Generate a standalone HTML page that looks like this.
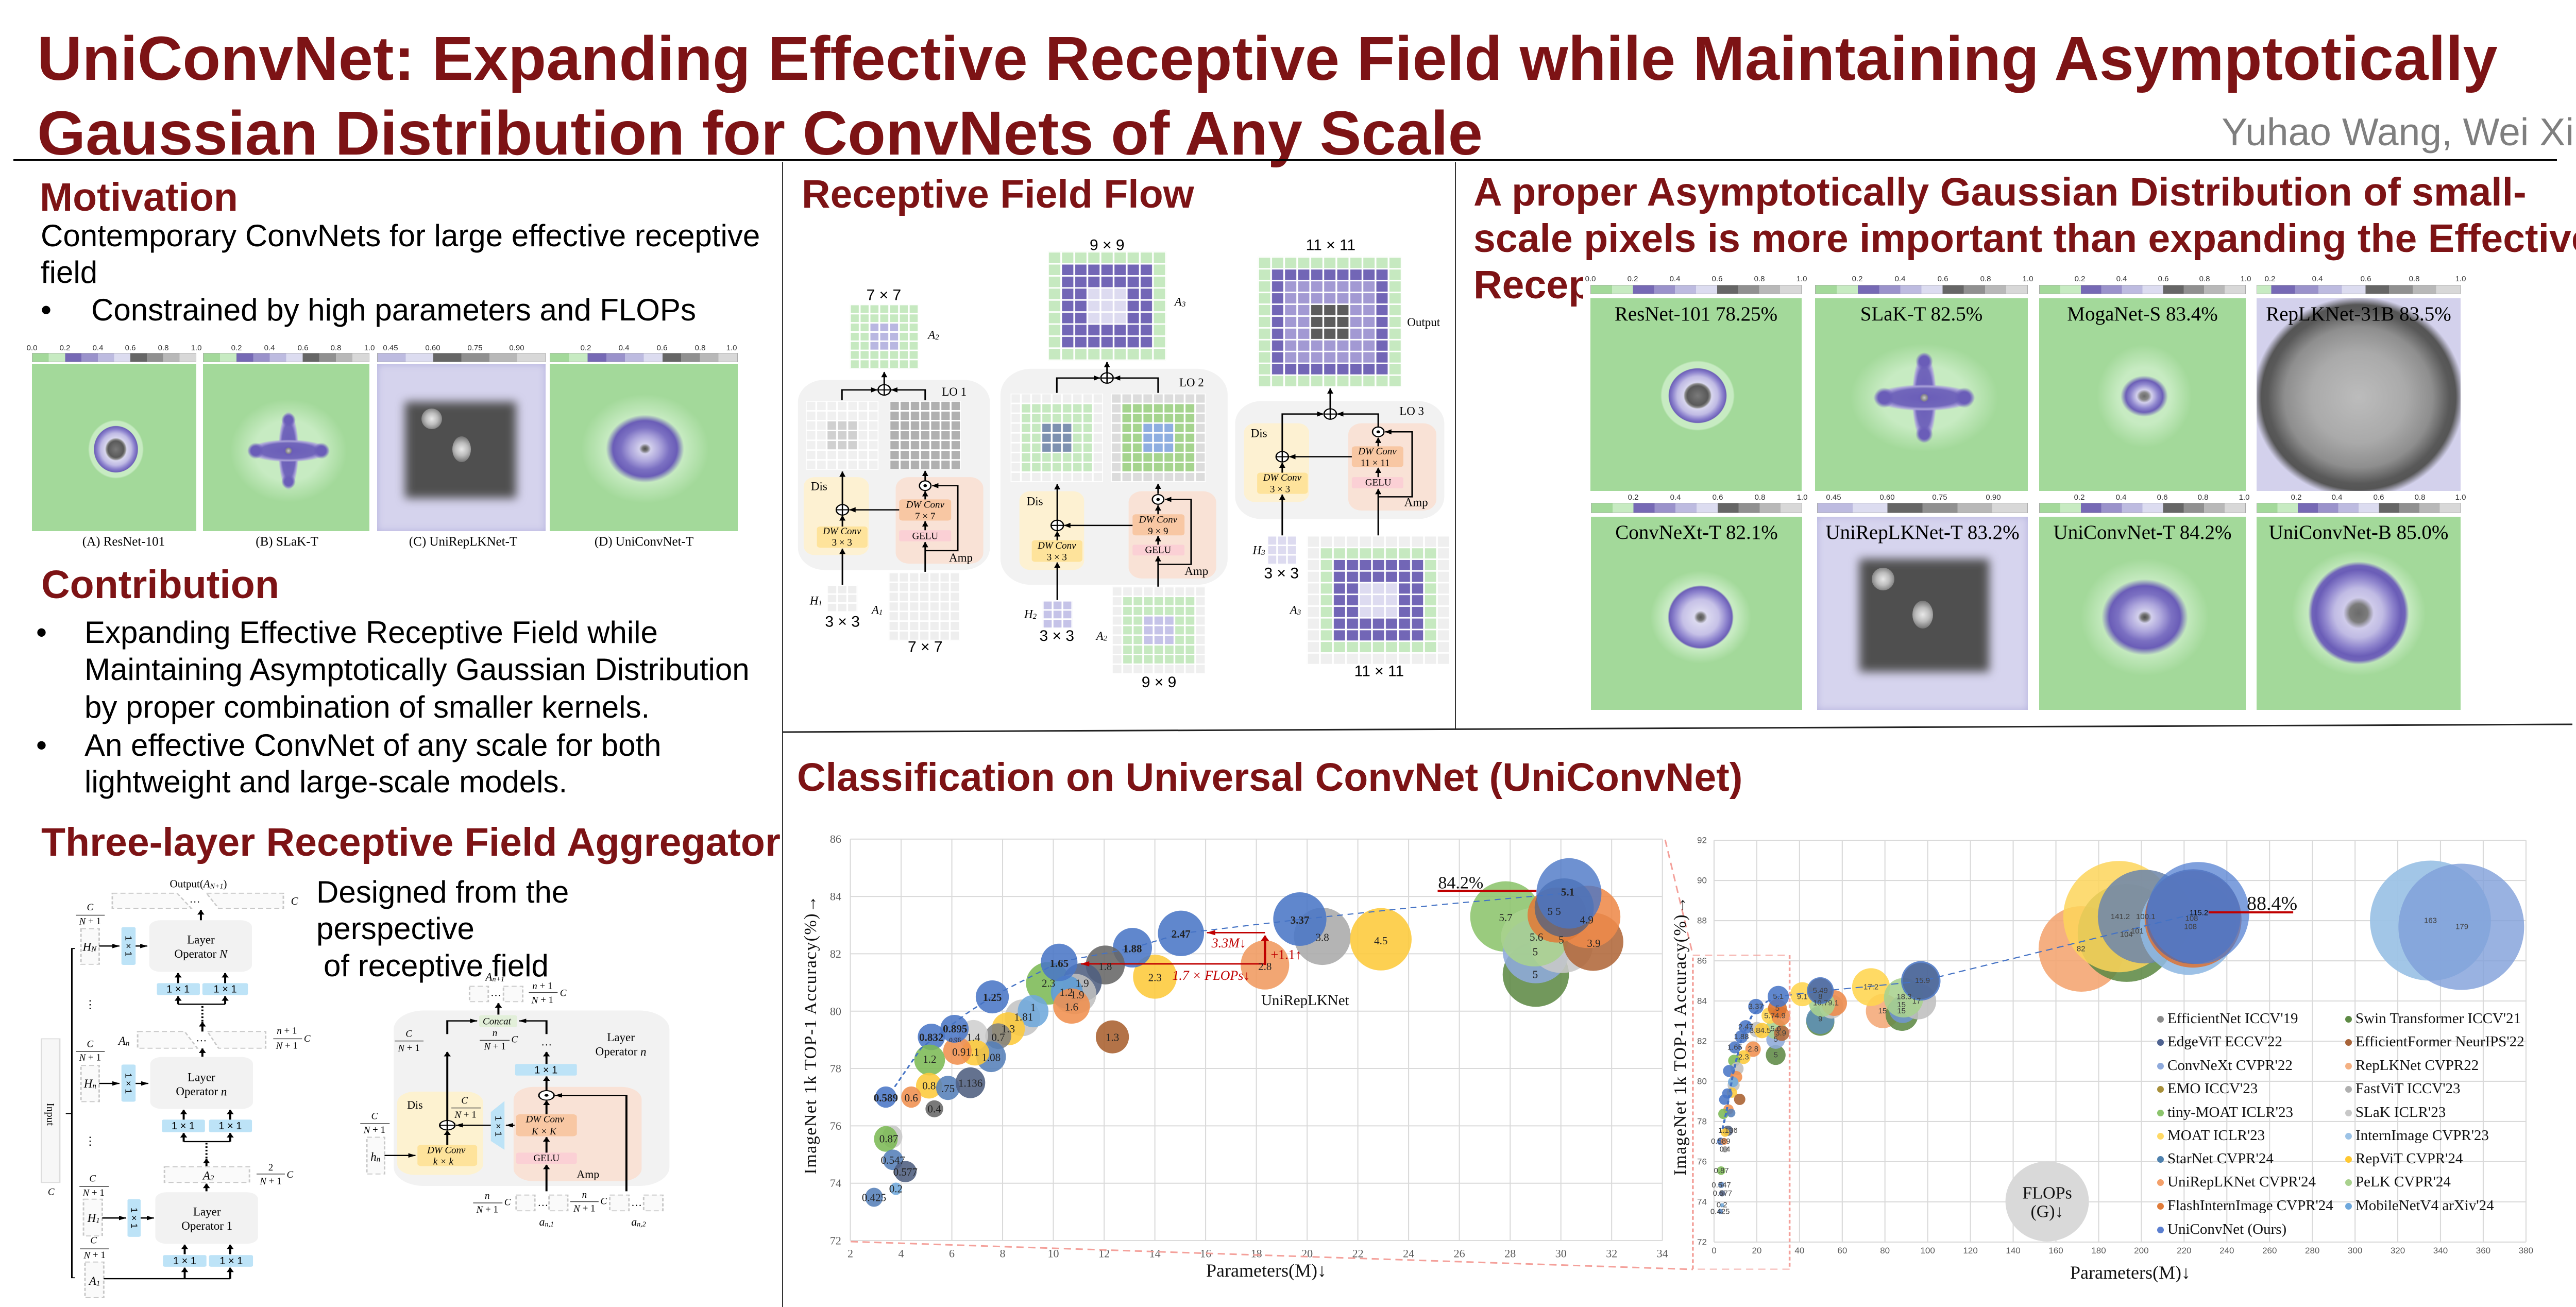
<!DOCTYPE html>
<html><head><meta charset="utf-8"><title>UniConvNet poster</title>
<style>
*{margin:0;padding:0;box-sizing:border-box}
html,body{width:5120px;height:2537px;overflow:hidden;background:#fff}
body{position:relative;font-family:"Liberation Sans",Arial,sans-serif;color:#000}
.a{position:absolute;white-space:nowrap;line-height:1}
.h{font-weight:bold;font-size:77px;color:#7d1315}
.b{font-size:60px}
svg{position:absolute;overflow:visible}
.hm{position:absolute;overflow:hidden;background-color:#a3d99a}
.hm .l{position:absolute;left:0;right:0;top:11px;text-align:center;font-family:"Liberation Serif",serif;font-size:39px;line-height:1;white-space:nowrap}
.cb{position:absolute;height:18px;border:1px solid #aaa;background:linear-gradient(to right,#a3d99a 0 10%,#c7ebc2 10% 20%,#7669b5 20% 30%,#9a92cb 30% 40%,#bdbbe0 40% 50%,#dcdcf0 50% 60%,#666 60% 70%,#909090 70% 80%,#b8b8b8 80% 90%,#d8d8d8 90% 100%)}
.cb6{background:linear-gradient(to right,#bdbbe0 0 16.7%,#dcdcf0 16.7% 33.3%,#666 33.3% 50%,#909090 50% 66.7%,#b8b8b8 66.7% 83.3%,#d8d8d8 83.3% 100%)}
.cl{position:absolute;font-size:15px;line-height:1;color:#333;transform:translateX(-50%);white-space:nowrap}
.cap{position:absolute;width:300px;text-align:center;font-family:"Liberation Serif",serif;font-size:25px;line-height:1;white-space:nowrap}
.lg{position:absolute;font-family:"Liberation Serif",serif;font-size:29px;line-height:1;white-space:nowrap;color:#111}
.dot{position:absolute;width:13px;height:13px;border-radius:50%}
.blk{position:absolute;background:#4f4f4f;filter:blur(9px)}
.spot{position:absolute;border-radius:50%;background:radial-gradient(circle,#e8e8e8 0,#bdbdbd 40%,rgba(120,120,120,0) 100%)}
</style></head><body>

<!-- Title -->
<div class="a" style="left:72px;top:41px;font-weight:bold;font-size:121px;line-height:145px;color:#7d1315">UniConvNet: Expanding Effective Receptive Field while Maintaining Asymptotically<br>Gaussian Distribution for ConvNets of Any Scale</div>
<div class="a" style="right:124px;top:219px;font-size:75px;color:#7f7f7f">Yuhao Wang, Wei Xi</div>
<div style="position:absolute;left:26px;top:309px;width:4937px;height:3px;background:#000"></div>
<div style="position:absolute;left:1518px;top:314px;width:2px;height:2223px;background:#333"></div>
<div style="position:absolute;left:2824px;top:314px;width:2px;height:1100px;background:#333"></div>

<!-- Left column -->
<div class="a h" style="left:77px;top:345px">Motivation</div>
<div class="a b" style="left:79px;top:428px">Contemporary ConvNets for large effective receptive</div>
<div class="a b" style="left:79px;top:499px">field</div>
<div class="a b" style="left:79px;top:572px">•</div>
<div class="a b" style="left:177px;top:572px">Constrained by high parameters and FLOPs</div>

<div class="cb" style="left:62px;top:685px;width:319px"></div>
<div class="cb" style="left:394px;top:685px;width:323px"></div>
<div class="cb cb6" style="left:732px;top:685px;width:327px"></div>
<div class="cb" style="left:1067px;top:685px;width:365px"></div>
<div class="cl" style="left:62px;top:668px">0.0</div><div class="cl" style="left:126px;top:668px">0.2</div><div class="cl" style="left:190px;top:668px">0.4</div><div class="cl" style="left:253px;top:668px">0.6</div><div class="cl" style="left:317px;top:668px">0.8</div><div class="cl" style="left:381px;top:668px">1.0</div>
<div class="cl" style="left:459px;top:668px">0.2</div><div class="cl" style="left:523px;top:668px">0.4</div><div class="cl" style="left:588px;top:668px">0.6</div><div class="cl" style="left:652px;top:668px">0.8</div><div class="cl" style="left:717px;top:668px">1.0</div>
<div class="cl" style="left:758px;top:668px">0.45</div><div class="cl" style="left:840px;top:668px">0.60</div><div class="cl" style="left:922px;top:668px">0.75</div><div class="cl" style="left:1003px;top:668px">0.90</div>
<div class="cl" style="left:1137px;top:668px">0.2</div><div class="cl" style="left:1211px;top:668px">0.4</div><div class="cl" style="left:1285px;top:668px">0.6</div><div class="cl" style="left:1359px;top:668px">0.8</div><div class="cl" style="left:1420px;top:668px">1.0</div>

<div class="hm" style="left:62px;top:707px;width:319px;height:324px;background:radial-gradient(ellipse 54px 57px at 163px 165px,#7a7a7a 0,#595959 28%,#8c8c8c 34%,#d8d6ee 39%,#bfbae4 55%,#8a80cc 68%,#6c5fb7 78%,#c7ebc2 80%,#c7ebc2 95%,rgba(199,235,194,0) 100%),#a3d99a"></div>
<div class="hm" style="left:394px;top:707px;width:323px;height:324px;background:radial-gradient(circle 11px at 166px 168px,#c8c8c8 0,#888 45%,#6a5db8 65%,rgba(106,93,184,0) 100%),radial-gradient(circle 16px at 102px 168px,#6a5db8 0,#6a5db8 55%,rgba(106,93,184,0) 100%),radial-gradient(circle 16px at 230px 168px,#6a5db8 0,#6a5db8 55%,rgba(106,93,184,0) 100%),radial-gradient(circle 14px at 166px 108px,#6a5db8 0,#6a5db8 55%,rgba(106,93,184,0) 100%),radial-gradient(circle 14px at 166px 228px,#6a5db8 0,#6a5db8 55%,rgba(106,93,184,0) 100%),radial-gradient(ellipse 80px 22px at 166px 168px,#6a5db8 0,#7166bb 68%,#aaa3d9 86%,rgba(170,163,217,0) 100%),radial-gradient(ellipse 20px 77px at 166px 168px,#6a5db8 0,#7166bb 68%,#aaa3d9 86%,rgba(170,163,217,0) 100%),radial-gradient(ellipse 138px 122px at 166px 168px,#c7ebc2 0,#c7ebc2 48%,rgba(199,235,194,0) 82%),#a3d99a"></div>
<div class="hm" style="left:732px;top:707px;width:327px;height:324px;background:#d5d3ed;box-shadow:inset 0 0 14px #b5b2de">
 <div class="blk" style="left:54px;top:73px;width:216px;height:187px"></div>
 <div class="spot" style="left:86px;top:86px;width:40px;height:40px"></div>
 <div class="spot" style="left:146px;top:140px;width:36px;height:50px"></div>
</div>
<div class="hm" style="left:1067px;top:707px;width:365px;height:324px;background:radial-gradient(ellipse 76px 66px at 185px 164px,#4d4d4d 0,#777 7%,#d2cfec 15%,#ada6dc 38%,#7b70c2 62%,#6a5db7 82%,rgba(106,93,183,0) 100%),radial-gradient(ellipse 124px 106px at 185px 164px,#c7ebc2 0,#c7ebc2 60%,rgba(199,235,194,0) 100%),#a3d99a"></div>
<div class="cap" style="left:90px;top:1039px">(A) ResNet-101</div>
<div class="cap" style="left:407px;top:1039px">(B) SLaK-T</div>
<div class="cap" style="left:749px;top:1039px">(C) UniRepLKNet-T</div>
<div class="cap" style="left:1100px;top:1039px">(D) UniConvNet-T</div>

<div class="a h" style="left:80px;top:1097px">Contribution</div>
<div class="a b" style="left:70px;top:1198px">•</div>
<div class="a b" style="left:164px;top:1198px">Expanding Effective Receptive Field while</div>
<div class="a b" style="left:164px;top:1270px">Maintaining Asymptotically Gaussian Distribution</div>
<div class="a b" style="left:164px;top:1343px">by proper combination of smaller kernels.</div>
<div class="a b" style="left:70px;top:1417px">•</div>
<div class="a b" style="left:164px;top:1417px">An effective ConvNet of any scale for both</div>
<div class="a b" style="left:164px;top:1488px">lightweight and large-scale models.</div>

<div class="a h" style="left:80px;top:1597px">Three-layer Receptive Field Aggregator</div>
<div class="a b" style="left:614px;top:1702px">Designed from the</div>
<div class="a b" style="left:614px;top:1773px">perspective</div>
<div class="a b" style="left:628px;top:1845px">of receptive field</div>

<!-- Aggregator diagram -->
<svg style="left:0;top:1580px;width:1540px;height:957px" viewBox="0 0 1568 1568" preserveAspectRatio="none">
<defs><marker id="ka" markerUnits="userSpaceOnUse" markerWidth="16" markerHeight="14" refX="14" refY="7" orient="auto"><path d="M0,0L15,7L0,14z" fill="#000"/></marker></defs>
<g fill="#fafafa" stroke="#c8c8c8" stroke-width="3" stroke-dasharray="10 6">
<polygon points="222,252 350,252 378,300 222,300"/><polygon points="408,252 560,252 560,300 432,300"/>
<rect x="160" y="365" width="36" height="113"/>
<polygon points="272,692 365,692 390,745 272,745"/><polygon points="410,692 525,692 525,745 432,745"/>
<rect x="160" y="800" width="36" height="115"/>
<rect x="325" y="1122" width="168" height="50"/>
<rect x="165" y="1225" width="37" height="117"/>
<rect x="168" y="1425" width="37" height="113"/>
<rect x="928" y="548" width="37" height="49"/><rect x="995" y="548" width="38" height="49"/>
<rect x="843" y="705" width="87" height="45"/><rect x="1030" y="705" width="35" height="47"/><rect x="1095" y="705" width="38" height="47"/>
<rect x="725" y="1028" width="35" height="117"/>
<rect x="1020" y="1212" width="37" height="50"/><rect x="1085" y="1212" width="37" height="50"/><rect x="1205" y="1212" width="38" height="50"/><rect x="1272" y="1212" width="38" height="50"/>
</g>
<rect x="82" y="715" width="36" height="457" fill="#f7f7f7" stroke="#ddd" stroke-width="3"/>
<g fill="#f2f2f2"><rect x="295" y="338" width="203" height="164" rx="22"/><rect x="297" y="773" width="203" height="165" rx="22"/><rect x="307" y="1203" width="203" height="164" rx="22"/><rect x="778" y="625" width="545" height="558" rx="60"/></g>
<rect x="785" y="883" width="170" height="265" rx="35" fill="#fdf2d0"/>
<rect x="1015" y="868" width="253" height="300" rx="40" fill="#f9e2d6"/>
<g fill="#bde3f7"><rect x="240" y="360" width="28" height="120" rx="4"/><rect x="310" y="538" width="85" height="38" rx="4"/><rect x="400" y="538" width="90" height="38" rx="4"/>
<rect x="240" y="797" width="28" height="118" rx="4"/><rect x="320" y="972" width="85" height="40" rx="4"/><rect x="413" y="972" width="85" height="40" rx="4"/>
<rect x="252" y="1225" width="26" height="120" rx="4"/><rect x="322" y="1403" width="86" height="37" rx="4"/><rect x="413" y="1403" width="87" height="37" rx="4"/>
<rect x="1018" y="795" width="122" height="37" rx="4"/><polygon points="970,948 997,913 997,1068 970,1040"/></g>
<rect x="947" y="640" width="75" height="38" rx="5" fill="#e2efd9"/>
<rect x="825" y="1052" width="118" height="68" rx="8" fill="#fee39b"/>
<rect x="1020" y="955" width="120" height="70" rx="8" fill="#f8c7a3"/>
<rect x="1020" y="1077" width="120" height="36" rx="5" fill="#fbd0d5"/>
<g stroke="#000" stroke-width="4" fill="none">
<path d="M148 428H142V1475H148M130 953H142" stroke-width="3"/>
<path d="M397 338V306" marker-end="url(#ka)"/>
<path d="M196 420H236" marker-end="url(#ka)"/><path d="M268 420H291" marker-end="url(#ka)"/>
<path d="M352 538V506" marker-end="url(#ka)"/><path d="M445 538V506" marker-end="url(#ka)"/>
<path d="M352 605V580" marker-end="url(#ka)"/><path d="M445 605V580" marker-end="url(#ka)"/><path d="M352 605H445"/>
<path d="M400 692V662" marker-end="url(#ka)"/><path d="M400 660V606" stroke-dasharray="5 6"/>
<path d="M400 772V746" marker-end="url(#ka)"/>
<path d="M196 857H236" marker-end="url(#ka)"/><path d="M268 857H293" marker-end="url(#ka)"/>
<path d="M363 972V941" marker-end="url(#ka)"/><path d="M455 972V941" marker-end="url(#ka)"/>
<path d="M363 1042V1015" marker-end="url(#ka)"/><path d="M455 1042V1015" marker-end="url(#ka)"/><path d="M363 1042H455"/>
<path d="M408 1120V1097" marker-end="url(#ka)"/><path d="M408 1095V1043" stroke-dasharray="5 6"/>
<path d="M408 1200V1176" marker-end="url(#ka)"/>
<path d="M202 1285H249" marker-end="url(#ka)"/><path d="M278 1285H304" marker-end="url(#ka)"/>
<path d="M365 1400V1370" marker-end="url(#ka)"/><path d="M455 1400V1370" marker-end="url(#ka)"/>
<path d="M205 1478H455"/><path d="M365 1478V1443" marker-end="url(#ka)"/><path d="M455 1478V1443" marker-end="url(#ka)"/>
<path d="M985 638V602" marker-end="url(#ka)"/>
<path d="M884 700V658H943" marker-end="url(#ka)"/><path d="M1080 700V658H1026" marker-end="url(#ka)"/>
<path d="M1080 795V757" marker-end="url(#ka)"/>
<path d="M884 975V757" marker-end="url(#ka)"/>
<path d="M884 1052V1007" marker-end="url(#ka)"/>
<path d="M760 1086H821" marker-end="url(#ka)"/>
<path d="M970 990H901" marker-end="url(#ka)"/><path d="M1017 990H1000" marker-end="url(#ka)"/>
<path d="M1080 1077V1028" marker-end="url(#ka)"/><path d="M1080 955V912" marker-end="url(#ka)"/><path d="M1080 880V835" marker-end="url(#ka)"/><path d="M1080 1200V1116" marker-end="url(#ka)"/>
<path d="M1238 1200V895H1097" marker-end="url(#ka)"/>
<circle cx="884" cy="990" r="15" fill="#fff" stroke-width="3"/><path d="M869 990H899M884 975V1005" stroke-width="3"/>
<circle cx="1080" cy="895" r="15" fill="#fff" stroke-width="3"/>
</g>
<circle cx="1080" cy="895" r="4" fill="#000"/>
<g stroke="#444" stroke-width="2.5"><path d="M150 322H207M150 755H207M157 1185H215M158 1383H215M540 715H597M507 1145H563M1045 568H1102M780 722H837M948 720H1007M892 935H950M712 985H770M935 1237H993M1127 1233H1183"/></g>
<g font-family="'Liberation Serif',serif" font-size="21" text-anchor="middle" dominant-baseline="central">
<text transform="translate(392 222) scale(1.018 1.638)">Output(<tspan font-style="italic">A</tspan><tspan font-size="14" font-style="italic" dy="5">N+1</tspan><tspan dy="-5">)</tspan></text>
<text transform="translate(385 270) scale(1.018 1.638)">…</text>
<text transform="translate(582 277) scale(1.018 1.638)" font-style="italic">C</text>
<text transform="translate(397 400) scale(1.018 1.638)" font-size="23">Layer</text>
<text transform="translate(397 445) scale(1.018 1.638)" font-size="23">Operator <tspan font-style="italic">N</tspan></text>
<text transform="translate(177 423) scale(1.018 1.638)" font-style="italic" font-size="23">H<tspan font-size="15" dy="5">N</tspan></text>
<text transform="translate(178 297) scale(1.018 1.638)" font-style="italic" font-size="19">C</text>
<text transform="translate(178 342) scale(1.018 1.638)" font-size="19"><tspan font-style="italic">N</tspan> + 1</text>
<text transform="translate(178 605) scale(1.018 1.638)" font-size="22">⋮</text>
<text transform="translate(178 1040) scale(1.018 1.638)" font-size="22">⋮</text>
<text transform="translate(245 722) scale(1.018 1.638)" font-style="italic" font-size="23">A<tspan font-size="15" dy="5">n</tspan></text>
<text transform="translate(398 712) scale(1.018 1.638)">…</text>
<text transform="translate(567 690) scale(1.018 1.638)" font-size="19"><tspan font-style="italic">n</tspan> + 1</text>
<text transform="translate(567 737) scale(1.018 1.638)" font-size="19"><tspan font-style="italic">N</tspan> + 1</text>
<text transform="translate(607 715) scale(1.018 1.638)" font-style="italic" font-size="19">C</text>
<text transform="translate(398 837) scale(1.018 1.638)" font-size="23">Layer</text>
<text transform="translate(398 882) scale(1.018 1.638)" font-size="23">Operator <tspan font-style="italic">n</tspan></text>
<text transform="translate(178 858) scale(1.018 1.638)" font-style="italic" font-size="23">H<tspan font-size="15" dy="5">n</tspan></text>
<text transform="translate(178 732) scale(1.018 1.638)" font-style="italic" font-size="19">C</text>
<text transform="translate(178 775) scale(1.018 1.638)" font-size="19"><tspan font-style="italic">N</tspan> + 1</text>
<text transform="translate(412 1150) scale(1.018 1.638)" font-style="italic" font-size="23">A<tspan font-size="15" dy="5">2</tspan></text>
<text transform="translate(535 1125) scale(1.018 1.638)" font-size="19">2</text>
<text transform="translate(535 1168) scale(1.018 1.638)" font-size="19"><tspan font-style="italic">N</tspan> + 1</text>
<text transform="translate(573 1148) scale(1.018 1.638)" font-style="italic" font-size="19">C</text>
<text transform="translate(409 1265) scale(1.018 1.638)" font-size="23">Layer</text>
<text transform="translate(409 1310) scale(1.018 1.638)" font-size="23">Operator 1</text>
<text transform="translate(185 1285) scale(1.018 1.638)" font-style="italic" font-size="23">H<tspan font-size="15" dy="5">1</tspan></text>
<text transform="translate(183 1160) scale(1.018 1.638)" font-style="italic" font-size="19">C</text>
<text transform="translate(185 1205) scale(1.018 1.638)" font-size="19"><tspan font-style="italic">N</tspan> + 1</text>
<text transform="translate(187 1485) scale(1.018 1.638)" font-style="italic" font-size="23">A<tspan font-size="15" dy="5">1</tspan></text>
<text transform="translate(185 1357) scale(1.018 1.638)" font-style="italic" font-size="19">C</text>
<text transform="translate(187 1403) scale(1.018 1.638)" font-size="19"><tspan font-style="italic">N</tspan> + 1</text>
<text transform="translate(100 955) scale(1.018 1.638) rotate(90)" font-size="21">Input</text>
<text transform="translate(101 1203) scale(1.018 1.638)" font-style="italic" font-size="19">C</text>
<text transform="translate(978 518) scale(1.018 1.638)" font-style="italic" font-size="22">A<tspan font-size="14" dy="5">n+1</tspan></text>
<text transform="translate(980 568) scale(1.018 1.638)">…</text>
<text transform="translate(1072 547) scale(1.018 1.638)" font-size="19"><tspan font-style="italic">n</tspan> + 1</text>
<text transform="translate(1072 592) scale(1.018 1.638)" font-size="19"><tspan font-style="italic">N</tspan> + 1</text>
<text transform="translate(1113 570) scale(1.018 1.638)" font-style="italic" font-size="19">C</text>
<text transform="translate(982 660) scale(1.018 1.638)" font-style="italic" font-size="19">Concat</text>
<text transform="translate(808 700) scale(1.018 1.638)" font-style="italic" font-size="19">C</text>
<text transform="translate(808 745) scale(1.018 1.638)" font-size="19"><tspan font-style="italic">N</tspan> + 1</text>
<text transform="translate(978 697) scale(1.018 1.638)" font-style="italic" font-size="19">n</text>
<text transform="translate(978 740) scale(1.018 1.638)" font-size="19"><tspan font-style="italic">N</tspan> + 1</text>
<text transform="translate(1017 718) scale(1.018 1.638)" font-style="italic" font-size="19">C</text>
<text transform="translate(1080 725) scale(1.018 1.638)">…</text>
<text transform="translate(1227 710) scale(1.018 1.638)" font-size="23">Layer</text>
<text transform="translate(1227 755) scale(1.018 1.638)" font-size="23">Operator <tspan font-style="italic">n</tspan></text>
<text transform="translate(820 925) scale(1.018 1.638)" font-size="22">Dis</text>
<text transform="translate(918 912) scale(1.018 1.638)" font-style="italic" font-size="19">C</text>
<text transform="translate(920 957) scale(1.018 1.638)" font-size="19"><tspan font-style="italic">N</tspan> + 1</text>
<text transform="translate(882 1070) scale(1.018 1.638)" font-style="italic" font-size="19">DW Conv</text>
<text transform="translate(876 1106) scale(1.018 1.638)" font-style="italic" font-size="19">k × k</text>
<text transform="translate(742 1090) scale(1.018 1.638)" font-style="italic" font-size="23">h<tspan font-size="15" dy="5">n</tspan></text>
<text transform="translate(740 962) scale(1.018 1.638)" font-style="italic" font-size="19">C</text>
<text transform="translate(740 1005) scale(1.018 1.638)" font-size="19"><tspan font-style="italic">N</tspan> + 1</text>
<text transform="translate(1162 1145) scale(1.018 1.638)" font-size="22">Amp</text>
<text transform="translate(1077 972) scale(1.018 1.638)" font-style="italic" font-size="19">DW Conv</text>
<text transform="translate(1075 1010) scale(1.018 1.638)" font-style="italic" font-size="19">K × K</text>
<text transform="translate(1080 1095) scale(1.018 1.638)" font-size="19">GELU</text>
<text transform="translate(963 1215) scale(1.018 1.638)" font-style="italic" font-size="19">n</text>
<text transform="translate(963 1258) scale(1.018 1.638)" font-size="19"><tspan font-style="italic">N</tspan> + 1</text>
<text transform="translate(1003 1235) scale(1.018 1.638)" font-style="italic" font-size="19">C</text>
<text transform="translate(1073 1235) scale(1.018 1.638)">…</text>
<text transform="translate(1155 1212) scale(1.018 1.638)" font-style="italic" font-size="19">n</text>
<text transform="translate(1155 1255) scale(1.018 1.638)" font-size="19"><tspan font-style="italic">N</tspan> + 1</text>
<text transform="translate(1193 1232) scale(1.018 1.638)" font-style="italic" font-size="19">C</text>
<text transform="translate(1258 1235) scale(1.018 1.638)">…</text>
<text transform="translate(1080 1297) scale(1.018 1.638)" font-style="italic" font-size="22">a<tspan font-size="14" dy="5">n,1</tspan></text>
<text transform="translate(1262 1297) scale(1.018 1.638)" font-style="italic" font-size="22">a<tspan font-size="14" dy="5">n,2</tspan></text>
</g>
<g font-family="'Liberation Sans',sans-serif" font-size="18" text-anchor="middle" dominant-baseline="central">
<text transform="translate(254 420) scale(1.018 1.638) rotate(90)">1 × 1</text>
<text transform="translate(254 857) scale(1.018 1.638) rotate(90)">1 × 1</text>
<text transform="translate(265 1285) scale(1.018 1.638) rotate(90)">1 × 1</text>
<text transform="translate(985 993) scale(1.018 1.638) rotate(90)">1 × 1</text>
<text transform="translate(352 558) scale(1.018 1.638)" font-size="20">1 × 1</text>
<text transform="translate(445 558) scale(1.018 1.638)" font-size="20">1 × 1</text>
<text transform="translate(362 993) scale(1.018 1.638)" font-size="20">1 × 1</text>
<text transform="translate(455 993) scale(1.018 1.638)" font-size="20">1 × 1</text>
<text transform="translate(365 1422) scale(1.018 1.638)" font-size="20">1 × 1</text>
<text transform="translate(457 1422) scale(1.018 1.638)" font-size="20">1 × 1</text>
<text transform="translate(1079 815) scale(1.018 1.638)" font-size="20">1 × 1</text>
</g>
</svg>

<!-- Receptive Field Flow -->
<div class="a h" style="left:1556px;top:339px">Receptive Field Flow</div>
<svg style="left:1530px;top:310px;width:1340px;height:1130px" viewBox="0 0 1568 1568" preserveAspectRatio="none">
<defs>
<marker id="kb" markerUnits="userSpaceOnUse" markerWidth="16" markerHeight="14" refX="14" refY="7" orient="auto"><path d="M0,0L15,7L0,14z" fill="#000"/></marker>
<pattern id="p1" patternUnits="userSpaceOnUse" x="140" y="390" width="22.29" height="24.71"><rect width="22.29" height="24.71" fill="none" stroke="#fff" stroke-width="4"/></pattern>
<pattern id="p2" patternUnits="userSpaceOnUse" x="40" y="650" width="23.57" height="26.43"><rect width="23.57" height="26.43" fill="none" stroke="#fff" stroke-width="4"/></pattern>
<pattern id="p3" patternUnits="userSpaceOnUse" x="230" y="650" width="23.14" height="26.43"><rect width="23.14" height="26.43" fill="none" stroke="#fff" stroke-width="4"/></pattern>
<pattern id="p4" patternUnits="userSpaceOnUse" x="88" y="1146" width="23" height="24"><rect width="23" height="24" fill="none" stroke="#fff" stroke-width="4"/></pattern>
<pattern id="p5" patternUnits="userSpaceOnUse" x="228" y="1112" width="23.14" height="26.14"><rect width="23.14" height="26.14" fill="none" stroke="#fff" stroke-width="4"/></pattern>
<pattern id="p6" patternUnits="userSpaceOnUse" x="590" y="248" width="29.78" height="32.44"><rect width="29.78" height="32.44" fill="none" stroke="#fff" stroke-width="4"/></pattern>
<pattern id="p7" patternUnits="userSpaceOnUse" x="505" y="630" width="23.33" height="26.44"><rect width="23.33" height="26.44" fill="none" stroke="#fff" stroke-width="4"/></pattern>
<pattern id="p8" patternUnits="userSpaceOnUse" x="733" y="630" width="23.89" height="26.44"><rect width="23.89" height="26.44" fill="none" stroke="#fff" stroke-width="4"/></pattern>
<pattern id="p9" patternUnits="userSpaceOnUse" x="578" y="1188" width="22.33" height="24.67"><rect width="22.33" height="24.67" fill="none" stroke="#fff" stroke-width="4"/></pattern>
<pattern id="p10" patternUnits="userSpaceOnUse" x="735" y="1150" width="23.67" height="26.11"><rect width="23.67" height="26.11" fill="none" stroke="#fff" stroke-width="4"/></pattern>
<pattern id="p11" patternUnits="userSpaceOnUse" x="1067" y="262" width="29.64" height="31.82"><rect width="29.64" height="31.82" fill="none" stroke="#fff" stroke-width="4"/></pattern>
<pattern id="p12" patternUnits="userSpaceOnUse" x="1088" y="1013" width="22.33" height="25.67"><rect width="22.33" height="25.67" fill="none" stroke="#fff" stroke-width="4"/></pattern>
<pattern id="p13" patternUnits="userSpaceOnUse" x="1178" y="1013" width="29.55" height="31.55"><rect width="29.55" height="31.55" fill="none" stroke="#fff" stroke-width="4"/></pattern>
</defs>
<g fill="#f2f2f2"><rect x="22" y="593" width="436" height="512" rx="60"/><rect x="482" y="563" width="516" height="582" rx="70"/><rect x="1015" y="650" width="475" height="318" rx="60"/></g>
<g fill="#fdf1d2"><rect x="35" y="855" width="148" height="210" rx="25"/><rect x="525" y="893" width="147" height="212" rx="25"/><rect x="1035" y="710" width="148" height="212" rx="25"/></g>
<g fill="#f9e2d6"><rect x="244" y="855" width="199" height="233" rx="30"/><rect x="773" y="893" width="199" height="235" rx="30"/><rect x="1272" y="710" width="200" height="235" rx="30"/></g>
<g fill="#fee39b"><rect x="65" y="988" width="115" height="57" rx="7"/><rect x="553" y="1025" width="115" height="58" rx="7"/><rect x="1065" y="843" width="115" height="57" rx="7"/></g>
<g fill="#f8c7a3"><rect x="252" y="915" width="118" height="57" rx="7"/><rect x="782" y="955" width="118" height="57" rx="7"/><rect x="1280" y="772" width="117" height="56" rx="7"/></g>
<g fill="#fbd0d5"><rect x="252" y="998" width="118" height="30" rx="4"/><rect x="782" y="1037" width="118" height="29" rx="4"/><rect x="1280" y="855" width="117" height="30" rx="4"/></g>
<rect x="140" y="390" width="156" height="173" fill="#c6e9c0"/><rect x="184.6" y="439.4" width="66.9" height="74.1" fill="#b9b7e1"/><rect x="140" y="390" width="156" height="173" fill="url(#p1)"/>
<rect x="40" y="650" width="165" height="185" fill="#f0f0f0"/><rect x="87.1" y="702.9" width="70.7" height="79.3" fill="#d0d0d0"/><rect x="40" y="650" width="165" height="185" fill="url(#p2)"/>
<rect x="230" y="650" width="162" height="185" fill="#b0b0b0"/><rect x="230" y="650" width="162" height="185" fill="url(#p3)"/>
<rect x="88" y="1146" width="69" height="72" fill="#eeeeee"/><rect x="88" y="1146" width="69" height="72" fill="url(#p4)"/>
<rect x="228" y="1112" width="162" height="183" fill="#eeeeee"/><rect x="228" y="1112" width="162" height="183" fill="url(#p5)"/>
<rect x="590" y="248" width="268" height="292" fill="#c6e9c0"/><rect x="619.8" y="280.4" width="208.4" height="227.1" fill="#7266b6"/><rect x="679.3" y="345.3" width="89.3" height="97.3" fill="#dddbf0"/><rect x="590" y="248" width="268" height="292" fill="url(#p6)"/>
<rect x="505" y="630" width="210" height="238" fill="#efefef"/><rect x="528.3" y="656.4" width="163.3" height="185.1" fill="#c6e9c0"/><rect x="575" y="709.3" width="70" height="79.3" fill="#7d91b0"/><rect x="505" y="630" width="210" height="238" fill="url(#p7)"/>
<rect x="733" y="630" width="215" height="238" fill="#dcdcdc"/><rect x="756.9" y="656.4" width="167.2" height="185.1" fill="#a5d48e"/><rect x="804.7" y="709.3" width="71.7" height="79.3" fill="#8eaee0"/><rect x="733" y="630" width="215" height="238" fill="url(#p8)"/>
<rect x="578" y="1188" width="67" height="74" fill="#c5c3e8"/><rect x="578" y="1188" width="67" height="74" fill="url(#p9)"/>
<rect x="735" y="1150" width="213" height="235" fill="#efefef"/><rect x="758.7" y="1176.1" width="165.7" height="182.8" fill="#c6e9c0"/><rect x="806" y="1228.3" width="71" height="78.3" fill="#c5c3e8"/><rect x="735" y="1150" width="213" height="235" fill="url(#p10)"/>
<rect x="1067" y="262" width="326" height="350" fill="#c6e9c0"/><rect x="1096.6" y="293.8" width="266.8" height="286.4" fill="#7266b6"/><rect x="1126.3" y="325.6" width="207.5" height="222.7" fill="#a299d3"/><rect x="1185.6" y="389.3" width="88.9" height="95.5" fill="#5c5c5c"/><rect x="1067" y="262" width="326" height="350" fill="url(#p11)"/>
<rect x="1088" y="1013" width="67" height="77" fill="#dddbf0"/><rect x="1088" y="1013" width="67" height="77" fill="url(#p12)"/>
<rect x="1178" y="1013" width="325" height="347" fill="#efefef"/><rect x="1207.5" y="1044.5" width="266" height="284" fill="#c6e9c0"/><rect x="1237.1" y="1076.1" width="206.8" height="220.8" fill="#7266b6"/><rect x="1296.2" y="1139.2" width="88.6" height="94.6" fill="#dddbf0"/><rect x="1178" y="1013" width="325" height="347" fill="url(#p13)"/>
<g stroke="#000" stroke-width="3.5" fill="none">
<path d="M218 606V572" marker-end="url(#kb)"/><path d="M122 648V620H202" marker-end="url(#kb)"/><path d="M311 648V620H234" marker-end="url(#kb)"/>
<path d="M123 929V840" marker-end="url(#kb)"/><path d="M123 1145V1048" marker-end="url(#kb)"/><path d="M123 988V958" marker-end="url(#kb)"/>
<path d="M252 943H139" marker-end="url(#kb)"/><path d="M311 915V893" marker-end="url(#kb)"/><path d="M311 864V838" marker-end="url(#kb)"/>
<path d="M311 998V974" marker-end="url(#kb)"/><path d="M311 1110V1030" marker-end="url(#kb)"/><path d="M311 1053H385V878H327" marker-end="url(#kb)"/>
<path d="M724 574V545" marker-end="url(#kb)"/><path d="M610 628V588H708" marker-end="url(#kb)"/><path d="M840 628V588H740" marker-end="url(#kb)"/>
<path d="M611 970V874" marker-end="url(#kb)"/><path d="M611 1186V1085" marker-end="url(#kb)"/><path d="M611 1025V1001" marker-end="url(#kb)"/>
<path d="M782 985H627" marker-end="url(#kb)"/><path d="M840 955V931" marker-end="url(#kb)"/><path d="M840 900V873" marker-end="url(#kb)"/>
<path d="M840 1037V1014" marker-end="url(#kb)"/><path d="M840 1150V1068" marker-end="url(#kb)"/><path d="M840 1090H915V915H856" marker-end="url(#kb)"/>
<path d="M1231 670V616" marker-end="url(#kb)"/><path d="M1122 786V685H1215" marker-end="url(#kb)"/><path d="M1340 720V685H1247" marker-end="url(#kb)"/>
<path d="M1122 843V816" marker-end="url(#kb)"/><path d="M1122 1012V902" marker-end="url(#kb)"/><path d="M1280 800H1138" marker-end="url(#kb)"/>
<path d="M1340 772V749" marker-end="url(#kb)"/><path d="M1340 855V830" marker-end="url(#kb)"/><path d="M1340 1012V887" marker-end="url(#kb)"/><path d="M1340 908H1417V733H1356" marker-end="url(#kb)"/>
</g>
<g stroke="#000" stroke-width="3" fill="#fff">
<circle cx="218" cy="620" r="14"/><circle cx="123" cy="943" r="14"/><circle cx="311" cy="878" r="13"/>
<circle cx="724" cy="588" r="14"/><circle cx="611" cy="985" r="14"/><circle cx="840" cy="915" r="13"/>
<circle cx="1231" cy="685" r="14"/><circle cx="1122" cy="800" r="14"/><circle cx="1340" cy="733" r="13"/>
<path d="M204 620H232M218 606V634M109 943H137M123 929V957M710 588H738M724 574V602M597 985H625M611 971V999M1217 685H1245M1231 671V699M1108 800H1136M1122 786V814" fill="none"/>
</g>
<g fill="#000"><circle cx="311" cy="878" r="4"/><circle cx="840" cy="915" r="4"/><circle cx="1340" cy="733" r="4"/></g>
<g font-family="'Liberation Sans',sans-serif" font-size="30" text-anchor="middle" dominant-baseline="central">
<text transform="translate(217 365) scale(1.17 1.388)">7 × 7</text>
<text transform="translate(123 1245) scale(1.17 1.388)">3 × 3</text>
<text transform="translate(311 1313) scale(1.17 1.388)">7 × 7</text>
<text transform="translate(724 230) scale(1.17 1.388)">9 × 9</text>
<text transform="translate(610 1283) scale(1.17 1.388)">3 × 3</text>
<text transform="translate(842 1408) scale(1.17 1.388)">9 × 9</text>
<text transform="translate(1232 230) scale(1.17 1.388)">11 × 11</text>
<text transform="translate(1120 1114) scale(1.17 1.388)">3 × 3</text>
<text transform="translate(1342 1378) scale(1.17 1.388)">11 × 11</text>
</g>
<g font-family="'Liberation Serif',serif" font-size="23" text-anchor="middle" dominant-baseline="central">
<text transform="translate(330 472) scale(1.17 1.388)" font-style="italic">A<tspan font-size="15" dy="5">2</tspan></text>
<text transform="translate(377 625) scale(1.17 1.388)">LO 1</text>
<text transform="translate(70 880) scale(1.17 1.388)">Dis</text>
<text transform="translate(392 1072) scale(1.17 1.388)">Amp</text>
<text transform="translate(63 1188) scale(1.17 1.388)" font-style="italic">H<tspan font-size="15" dy="5">1</tspan></text>
<text transform="translate(202 1213) scale(1.17 1.388)" font-style="italic">A<tspan font-size="15" dy="5">1</tspan></text>
<text transform="translate(890 383) scale(1.17 1.388)" font-style="italic">A<tspan font-size="15" dy="5">3</tspan></text>
<text transform="translate(916 600) scale(1.17 1.388)">LO 2</text>
<text transform="translate(560 920) scale(1.17 1.388)">Dis</text>
<text transform="translate(927 1108) scale(1.17 1.388)">Amp</text>
<text transform="translate(550 1224) scale(1.17 1.388)" font-style="italic">H<tspan font-size="15" dy="5">2</tspan></text>
<text transform="translate(712 1283) scale(1.17 1.388)" font-style="italic">A<tspan font-size="15" dy="5">2</tspan></text>
<text transform="translate(1443 438) scale(1.17 1.388)">Output</text>
<text transform="translate(1416 677) scale(1.17 1.388)">LO 3</text>
<text transform="translate(1069 737) scale(1.17 1.388)">Dis</text>
<text transform="translate(1426 923) scale(1.17 1.388)">Amp</text>
<text transform="translate(1069 1052) scale(1.17 1.388)" font-style="italic">H<tspan font-size="15" dy="5">3</tspan></text>
<text transform="translate(1152 1213) scale(1.17 1.388)" font-style="italic">A<tspan font-size="15" dy="5">3</tspan></text>
<g font-size="19">
<text transform="translate(122 1001) scale(1.17 1.388)" font-style="italic">DW Conv</text><text transform="translate(122 1032) scale(1.17 1.388)">3 × 3</text>
<text transform="translate(311 930) scale(1.17 1.388)" font-style="italic">DW Conv</text><text transform="translate(311 961) scale(1.17 1.388)">7 × 7</text>
<text transform="translate(311 1014) scale(1.17 1.388)">GELU</text>
<text transform="translate(610 1040) scale(1.17 1.388)" font-style="italic">DW Conv</text><text transform="translate(610 1071) scale(1.17 1.388)">3 × 3</text>
<text transform="translate(840 970) scale(1.17 1.388)" font-style="italic">DW Conv</text><text transform="translate(840 1001) scale(1.17 1.388)">9 × 9</text>
<text transform="translate(840 1052) scale(1.17 1.388)">GELU</text>
<text transform="translate(1122 857) scale(1.17 1.388)" font-style="italic">DW Conv</text><text transform="translate(1117 888) scale(1.17 1.388)">3 × 3</text>
<text transform="translate(1338 786) scale(1.17 1.388)" font-style="italic">DW Conv</text><text transform="translate(1333 817) scale(1.17 1.388)">11 × 11</text>
<text transform="translate(1340 870) scale(1.17 1.388)">GELU</text>
</g>
</g>
</svg>

<!-- Right top -->
<div class="a" style="left:2860px;top:328px;font-weight:bold;font-size:77px;line-height:90px;color:#7d1315">A proper Asymptotically Gaussian Distribution of small-<br>scale pixels is more important than expanding the Effective<br>Receptive Field</div>
<div style="position:absolute;left:3073px;top:520px;width:1720px;height:870px;background:#fff"></div>

<div class="cb" style="left:3087px;top:553px;width:410px"></div>
<div class="cb" style="left:3523px;top:553px;width:413px"></div>
<div class="cb" style="left:3958px;top:553px;width:401px"></div>
<div class="cb" style="left:4380px;top:553px;width:396px;background:linear-gradient(to right,#c7ebc2 0 7%,#7669b5 7% 18.6%,#9a92cb 18.6% 30.2%,#bdbbe0 30.2% 41.8%,#dcdcf0 41.8% 53.4%,#666 53.4% 65%,#909090 65% 76.6%,#b8b8b8 76.6% 88.2%,#d8d8d8 88.2% 100%)"></div>
<div class="cl" style="left:3087px;top:534px">0.0</div><div class="cl" style="left:3169px;top:534px">0.2</div><div class="cl" style="left:3251px;top:534px">0.4</div><div class="cl" style="left:3333px;top:534px">0.6</div><div class="cl" style="left:3415px;top:534px">0.8</div><div class="cl" style="left:3497px;top:534px">1.0</div>
<div class="cl" style="left:3605px;top:534px">0.2</div><div class="cl" style="left:3688px;top:534px">0.4</div><div class="cl" style="left:3771px;top:534px">0.6</div><div class="cl" style="left:3854px;top:534px">0.8</div><div class="cl" style="left:3936px;top:534px">1.0</div>
<div class="cl" style="left:4037px;top:534px">0.2</div><div class="cl" style="left:4118px;top:534px">0.4</div><div class="cl" style="left:4199px;top:534px">0.6</div><div class="cl" style="left:4279px;top:534px">0.8</div><div class="cl" style="left:4359px;top:534px">1.0</div>
<div class="cl" style="left:4406px;top:534px">0.2</div><div class="cl" style="left:4498px;top:534px">0.4</div><div class="cl" style="left:4592px;top:534px">0.6</div><div class="cl" style="left:4686px;top:534px">0.8</div><div class="cl" style="left:4776px;top:534px">1.0</div>

<div class="hm" style="left:3087px;top:579px;width:410px;height:374px;background:radial-gradient(ellipse 72px 68px at 208px 189px,#7a7a7a 0,#595959 28%,#8c8c8c 34%,#d8d6ee 38%,#c0bbe4 55%,#8a80cc 68%,#6c5fb7 77%,#c7ebc2 79%,#c7ebc2 96%,rgba(199,235,194,0) 100%),#a3d99a"><div class="l">ResNet-101 78.25%</div></div>
<div class="hm" style="left:3523px;top:579px;width:413px;height:374px;background:radial-gradient(circle 13px at 212px 193px,#c8c8c8 0,#888 45%,#6a5db8 65%,rgba(106,93,184,0) 100%),radial-gradient(circle 20px at 134px 193px,#6a5db8 0,#6a5db8 55%,rgba(106,93,184,0) 100%),radial-gradient(circle 20px at 290px 193px,#6a5db8 0,#6a5db8 55%,rgba(106,93,184,0) 100%),radial-gradient(circle 17px at 212px 122px,#6a5db8 0,#6a5db8 55%,rgba(106,93,184,0) 100%),radial-gradient(circle 17px at 212px 264px,#6a5db8 0,#6a5db8 55%,rgba(106,93,184,0) 100%),radial-gradient(ellipse 100px 26px at 212px 193px,#6a5db8 0,#7166bb 68%,#aaa3d9 86%,rgba(170,163,217,0) 100%),radial-gradient(ellipse 24px 88px at 212px 193px,#6a5db8 0,#7166bb 68%,#aaa3d9 86%,rgba(170,163,217,0) 100%),radial-gradient(ellipse 175px 128px at 212px 193px,#c7ebc2 0,#c7ebc2 48%,rgba(199,235,194,0) 82%),#a3d99a"><div class="l">SLaK-T 82.5%</div></div>
<div class="hm" style="left:3958px;top:579px;width:401px;height:374px;background:radial-gradient(ellipse 46px 40px at 204px 190px,#6a6a6a 0,#888 18%,#d2cfec 32%,#9088cf 58%,#6c5fb7 78%,rgba(108,95,183,0) 100%),radial-gradient(ellipse 92px 100px at 204px 190px,#c7ebc2 0,#c7ebc2 55%,rgba(199,235,194,0) 100%),#a3d99a"><div class="l">MogaNet-S 83.4%</div></div>
<div class="hm" style="left:4380px;top:579px;width:396px;height:374px;background:radial-gradient(ellipse 205px 195px at 198px 192px,#bcbcbc 0,#aaaaaa 45%,#8e8e8e 70%,#595959 86%,#555 92%,rgba(90,90,90,0) 100%),#d3d1ec"><div class="l">RepLKNet-31B 83.5%</div></div>

<div class="cb" style="left:3088px;top:976px;width:410px;height:20px"></div>
<div class="cb cb6" style="left:3527px;top:976px;width:409px;height:20px"></div>
<div class="cb" style="left:3958px;top:976px;width:401px;height:20px"></div>
<div class="cb" style="left:4380px;top:976px;width:396px;height:20px"></div>
<div class="cl" style="left:3170px;top:958px">0.2</div><div class="cl" style="left:3252px;top:958px">0.4</div><div class="cl" style="left:3334px;top:958px">0.6</div><div class="cl" style="left:3416px;top:958px">0.8</div><div class="cl" style="left:3498px;top:958px">1.0</div>
<div class="cl" style="left:3559px;top:958px">0.45</div><div class="cl" style="left:3663px;top:958px">0.60</div><div class="cl" style="left:3765px;top:958px">0.75</div><div class="cl" style="left:3869px;top:958px">0.90</div>
<div class="cl" style="left:4036px;top:958px">0.2</div><div class="cl" style="left:4117px;top:958px">0.4</div><div class="cl" style="left:4197px;top:958px">0.6</div><div class="cl" style="left:4276px;top:958px">0.8</div><div class="cl" style="left:4356px;top:958px">1.0</div>
<div class="cl" style="left:4457px;top:958px">0.2</div><div class="cl" style="left:4536px;top:958px">0.4</div><div class="cl" style="left:4617px;top:958px">0.6</div><div class="cl" style="left:4697px;top:958px">0.8</div><div class="cl" style="left:4776px;top:958px">1.0</div>

<div class="hm" style="left:3088px;top:1003px;width:410px;height:375px;background:radial-gradient(ellipse 64px 62px at 213px 195px,#555 0,#777 10%,#dcdaf0 20%,#c6c1e7 55%,#8c82cd 80%,#6c5fb7 95%,rgba(108,95,183,0) 100%),radial-gradient(ellipse 98px 90px at 213px 195px,#c7ebc2 0,#c7ebc2 70%,rgba(199,235,194,0) 100%),#a3d99a"><div class="l">ConvNeXt-T 82.1%</div></div>
<div class="hm" style="left:3527px;top:1003px;width:409px;height:375px;background:#d6d4ee;box-shadow:inset 0 0 14px #b5b2de">
 <div class="blk" style="left:82px;top:82px;width:252px;height:219px"></div>
 <div class="spot" style="left:106px;top:99px;width:44px;height:44px"></div>
 <div class="spot" style="left:185px;top:163px;width:40px;height:54px"></div>
 <div class="l">UniRepLKNet-T 83.2%</div></div>
<div class="hm" style="left:3958px;top:1003px;width:401px;height:375px;background:radial-gradient(ellipse 84px 74px at 205px 195px,#4d4d4d 0,#777 8%,#d2cfec 16%,#ada6dc 38%,#7b70c2 62%,#6a5db7 82%,rgba(106,93,183,0) 100%),radial-gradient(ellipse 124px 114px at 205px 195px,#c7ebc2 0,#c7ebc2 62%,rgba(199,235,194,0) 100%),#a3d99a"><div class="l">UniConvNet-T 84.2%</div></div>
<div class="hm" style="left:4380px;top:1003px;width:396px;height:375px;background:radial-gradient(ellipse 98px 100px at 198px 187px,#6a6a6a 0,#7c7c7c 18%,#cfcbea 30%,#c0bbe4 48%,#8e84cd 68%,#6a5db7 84%,#7064b9 92%,rgba(112,100,185,0) 100%),radial-gradient(ellipse 130px 122px at 198px 187px,#c7ebc2 0,#c7ebc2 74%,rgba(199,235,194,0) 100%),#a3d99a"><div class="l">UniConvNet-B 85.0%</div></div>

<!-- Bottom -->
<div class="a h" style="left:1547px;top:1471px">Classification on Universal ConvNet (UniConvNet)</div>

<!-- Chart 1 -->
<svg style="left:1530px;top:1420px;width:1800px;height:1117px" viewBox="0 0 1568 1568" preserveAspectRatio="none">
<defs><marker id="kr" markerUnits="userSpaceOnUse" markerWidth="16" markerHeight="14" refX="14" refY="7" orient="auto"><path d="M0,0L15,7L0,14z" fill="#c00000"/></marker></defs>
<path d="M105 293V1387M190.8 293V1387M276.6 293V1387M362.4 293V1387M448.2 293V1387M534.1 293V1387M619.9 293V1387M705.7 293V1387M791.5 293V1387M877.3 293V1387M963.1 293V1387M1048.9 293V1387M1134.7 293V1387M1220.6 293V1387M1306.4 293V1387M1392.2 293V1387M1478 293V1387" stroke="#dadada" stroke-width="1.8"/>
<path d="M105 293H1478M105 449.3H1478M105 605.6H1478M105 761.9H1478M105 918.1H1478M105 1074.4H1478M105 1230.7H1478M105 1387H1478" stroke="#dadada" stroke-width="2.8"/>
<g fill-opacity=".88">
<ellipse cx="1213" cy="504" rx="60" ry="96" fill="#8cc46c"/>
<ellipse cx="1264" cy="662" rx="56" ry="88" fill="#5e8a45"/>
<ellipse cx="1264" cy="598" rx="56" ry="88" fill="#8eaadb"/>
<ellipse cx="1308" cy="588" rx="52" ry="70" fill="#c8c8c8"/>
<ellipse cx="1262" cy="560" rx="57" ry="80" fill="#a9d18e"/>
<ellipse cx="1361" cy="573" rx="51" ry="79" fill="#b0683a"/>
<ellipse cx="1352" cy="505" rx="55" ry="85" fill="#ee8a4a"/>
<ellipse cx="1300" cy="500" rx="50" ry="75" fill="#e07b39"/>
<ellipse cx="1312" cy="480" rx="50" ry="80" fill="#4f5f80" fill-opacity=".75"/>
<ellipse cx="1320" cy="441" rx="55" ry="96" fill="#4a76c6" fill-opacity=".8"/>
<ellipse cx="903" cy="558" rx="48" ry="78" fill="#aaaaaa"/>
<ellipse cx="865" cy="511" rx="45" ry="73" fill="#4a76c6"/>
<ellipse cx="1002" cy="566" rx="52" ry="85" fill="#fdc93a"/>
<ellipse cx="806" cy="636" rx="41" ry="67" fill="#f09a60"/>
<ellipse cx="664" cy="550" rx="39" ry="62" fill="#4a76c6"/>
<ellipse cx="620" cy="668" rx="37" ry="60" fill="#fdc93a"/>
<ellipse cx="582" cy="589" rx="33" ry="54" fill="#4a76c6"/>
<ellipse cx="536" cy="636" rx="33" ry="53" fill="#666"/>
<ellipse cx="548" cy="832" rx="28" ry="45" fill="#a8602f"/>
<ellipse cx="440" cy="686" rx="38" ry="58" fill="#7cba55"/>
<ellipse cx="497" cy="683" rx="33" ry="52" fill="#4f5f80"/>
<ellipse cx="484" cy="715" rx="37" ry="55" fill="#bfbfbf"/>
<ellipse cx="471" cy="710" rx="27" ry="45" fill="#5b9bd5"/>
<ellipse cx="458" cy="629" rx="31" ry="51" fill="#4a76c6"/>
<ellipse cx="479" cy="748" rx="31" ry="48" fill="#f0904f"/>
<ellipse cx="396" cy="780" rx="30" ry="50" fill="#c4c4c4"/>
<ellipse cx="414" cy="762" rx="26" ry="44" fill="#6fa8dc"/>
<ellipse cx="372" cy="810" rx="28" ry="45" fill="#fdc93a"/>
<ellipse cx="345" cy="723" rx="28" ry="45" fill="#4a76c6"/>
<ellipse cx="355" cy="830" rx="22" ry="35" fill="#808080"/>
<ellipse cx="343" cy="886" rx="25" ry="42" fill="#5580b8"/>
<ellipse cx="313" cy="828" rx="25" ry="42" fill="#cfcfcf"/>
<ellipse cx="316" cy="875" rx="24" ry="35" fill="#fdc93a"/>
<ellipse cx="286" cy="870" rx="24" ry="38" fill="#f0904f"/>
<ellipse cx="281" cy="810" rx="24" ry="38" fill="#4a76c6"/>
<ellipse cx="242" cy="832" rx="23" ry="36" fill="#4a76c6"/>
<ellipse cx="239" cy="895" rx="26" ry="42" fill="#7cba55"/>
<ellipse cx="238" cy="965" rx="22" ry="35" fill="#fdc93a"/>
<ellipse cx="270" cy="971" rx="20" ry="33" fill="#5580b8"/>
<ellipse cx="308" cy="957" rx="25" ry="42" fill="#4f5f80"/>
<ellipse cx="247" cy="1028" rx="15" ry="23" fill="#666"/>
<ellipse cx="165" cy="996" rx="18" ry="29" fill="#4a76c6"/>
<ellipse cx="208" cy="996" rx="17" ry="29" fill="#f0904f"/>
<ellipse cx="176" cy="1104" rx="17" ry="31" fill="#c8c8c8"/>
<ellipse cx="165" cy="1110" rx="20" ry="35" fill="#7cba55"/>
<ellipse cx="177" cy="1167" rx="17" ry="28" fill="#5580b8"/>
<ellipse cx="198" cy="1199" rx="19" ry="29" fill="#4f5f80"/>
<ellipse cx="182" cy="1246" rx="10" ry="17" fill="#6fa8dc"/>
<ellipse cx="145" cy="1269" rx="15" ry="26" fill="#5580b8"/>
</g>
<polyline points="180,968 225,862 300,770 345,722 458,628 582,590 664,550 865,512 1100,472 1320,440" fill="none" stroke="#4472c4" stroke-width="3" stroke-dasharray="10 8"/>
<path d="M1098 434H1265" stroke="#c00000" stroke-width="6"/>
<g stroke="#c00000" stroke-width="4" fill="none">
<path d="M806 548H708" marker-end="url(#kr)"/><path d="M806 636V556" marker-end="url(#kr)"/><path d="M806 633H495" marker-end="url(#kr)"/>
</g>
<g font-family="'Liberation Serif',serif" font-size="21" text-anchor="middle" dominant-baseline="central" fill="#222">
<text transform="translate(1318 437) scale(.871 1.404)" font-weight="bold">5.1</text>
<text transform="translate(1213 507) scale(.871 1.404)">5.7</text>
<text transform="translate(1295 490) scale(.871 1.404)">5  5</text>
<text transform="translate(1350 513) scale(.871 1.404)">4.9</text>
<text transform="translate(1265 560) scale(.871 1.404)">5.6</text>
<text transform="translate(1307 568) scale(.871 1.404)">5</text>
<text transform="translate(1362 577) scale(.871 1.404)">3.9</text>
<text transform="translate(1263 600) scale(.871 1.404)">5</text>
<text transform="translate(1263 662) scale(.871 1.404)">5</text>
<text transform="translate(865 514) scale(.871 1.404)" font-weight="bold">3.37</text>
<text transform="translate(903 561) scale(.871 1.404)">3.8</text>
<text transform="translate(1002 570) scale(.871 1.404)">4.5</text>
<text transform="translate(806 640) scale(.871 1.404)">2.8</text>
<text transform="translate(664 552) scale(.871 1.404)" font-weight="bold">2.47</text>
<text transform="translate(620 670) scale(.871 1.404)">2.3</text>
<text transform="translate(582 592) scale(.871 1.404)" font-weight="bold">1.88</text>
<text transform="translate(536 640) scale(.871 1.404)">1.8</text>
<text transform="translate(548 833) scale(.871 1.404)">1.3</text>
<text transform="translate(458 632) scale(.871 1.404)" font-weight="bold">1.65</text>
<text transform="translate(440 686) scale(.871 1.404)">2.3</text>
<text transform="translate(497 686) scale(.871 1.404)">1.9</text>
<text transform="translate(470 710) scale(.871 1.404)">1.2</text>
<text transform="translate(489 717) scale(.871 1.404)">1.9</text>
<text transform="translate(479 750) scale(.871 1.404)">1.6</text>
<text transform="translate(414 752) scale(.871 1.404)">1</text>
<text transform="translate(398 778) scale(.871 1.404)">1.81</text>
<text transform="translate(372 810) scale(.871 1.404)">1.3</text>
<text transform="translate(345 724) scale(.871 1.404)" font-weight="bold">1.25</text>
<text transform="translate(355 833) scale(.871 1.404)">0.7</text>
<text transform="translate(343 888) scale(.871 1.404)">1.08</text>
<text transform="translate(313 833) scale(.871 1.404)">1.4</text>
<text transform="translate(300 873) scale(.871 1.404)">0.91.1</text>
<text transform="translate(282 810) scale(.871 1.404)" font-weight="bold">0.895</text>
<text transform="translate(242 833) scale(.871 1.404)" font-weight="bold">0.832</text>
<text transform="translate(282 840) scale(.871 1.404)" font-size="13">0.96</text>
<text transform="translate(239 893) scale(.871 1.404)">1.2</text>
<text transform="translate(238 965) scale(.871 1.404)">0.8</text>
<text transform="translate(270 973) scale(.871 1.404)">.75</text>
<text transform="translate(308 958) scale(.871 1.404)">1.136</text>
<text transform="translate(247 1028) scale(.871 1.404)">0.4</text>
<text transform="translate(165 998) scale(.871 1.404)" font-weight="bold">0.589</text>
<text transform="translate(208 998) scale(.871 1.404)">0.6</text>
<text transform="translate(170 1110) scale(.871 1.404)">0.87</text>
<text transform="translate(177 1168) scale(.871 1.404)">0.547</text>
<text transform="translate(198 1200) scale(.871 1.404)">0.577</text>
<text transform="translate(182 1246) scale(.871 1.404)">0.2</text>
<text transform="translate(145 1270) scale(.871 1.404)">0.425</text>
<text transform="translate(1137 413) scale(.871 1.404)" font-size="34" fill="#111">84.2%</text>
<text transform="translate(874 733) scale(.871 1.404)" font-size="29" fill="#111">UniRepLKNet</text>
<g fill="#c00000" font-size="26">
<text transform="translate(745 576) scale(.871 1.404)" font-style="italic">3.3M↓</text>
<text transform="translate(842 608) scale(.871 1.404)">+1.1↑</text>
<text transform="translate(715 665) scale(.871 1.404)" font-style="italic">1.7 × FLOPs↓</text>
</g>
<g fill="#595959" font-size="22">
<text transform="translate(80 293) scale(.871 1.404)">86</text><text transform="translate(80 449.3) scale(.871 1.404)">84</text><text transform="translate(80 605.6) scale(.871 1.404)">82</text><text transform="translate(80 761.9) scale(.871 1.404)">80</text><text transform="translate(80 918.1) scale(.871 1.404)">78</text><text transform="translate(80 1074.4) scale(.871 1.404)">76</text><text transform="translate(80 1230.7) scale(.871 1.404)">74</text><text transform="translate(80 1387) scale(.871 1.404)">72</text>
<text transform="translate(105 1422) scale(.871 1.404)">2</text><text transform="translate(190.8 1422) scale(.871 1.404)">4</text><text transform="translate(276.6 1422) scale(.871 1.404)">6</text><text transform="translate(362.4 1422) scale(.871 1.404)">8</text><text transform="translate(448.2 1422) scale(.871 1.404)">10</text><text transform="translate(534.1 1422) scale(.871 1.404)">12</text><text transform="translate(619.9 1422) scale(.871 1.404)">14</text><text transform="translate(705.7 1422) scale(.871 1.404)">16</text><text transform="translate(791.5 1422) scale(.871 1.404)">18</text><text transform="translate(877.3 1422) scale(.871 1.404)">20</text><text transform="translate(963.1 1422) scale(.871 1.404)">22</text><text transform="translate(1048.9 1422) scale(.871 1.404)">24</text><text transform="translate(1134.7 1422) scale(.871 1.404)">26</text><text transform="translate(1220.6 1422) scale(.871 1.404)">28</text><text transform="translate(1306.4 1422) scale(.871 1.404)">30</text><text transform="translate(1392.2 1422) scale(.871 1.404)">32</text><text transform="translate(1478 1422) scale(.871 1.404)">34</text>
</g>
</g>
</svg>

<!-- Chart 2 -->
<svg style="left:3280px;top:1600px;width:1840px;height:937px" viewBox="0 0 1568 1568" preserveAspectRatio="none">
<path d="M40 52V1357M110.7 52V1357M181.4 52V1357M252.1 52V1357M322.7 52V1357M393.4 52V1357M464.1 52V1357M534.8 52V1357M605.5 52V1357M676.2 52V1357M746.8 52V1357M817.5 52V1357M888.2 52V1357M958.9 52V1357M1029.6 52V1357M1100.3 52V1357M1170.9 52V1357M1241.6 52V1357M1312.3 52V1357M1383 52V1357" stroke="#dadada" stroke-width="1.8"/>
<path d="M40 52H1383M40 182.5H1383M40 313H1383M40 443.5H1383M40 574H1383M40 704.5H1383M40 835H1383M40 965.5H1383M40 1096H1383M40 1226.5H1383M40 1357H1383" stroke="#dadada" stroke-width="3.5"/>
<ellipse cx="591" cy="1225" rx="69" ry="130" fill="#d9d9d9"/>
<g fill-opacity=".88">
<ellipse cx="647.5" cy="404.9" rx="70.7" ry="138.9" fill="#f4a470"/>
<ellipse cx="722.5" cy="353" rx="80.9" ry="158.9" fill="#5e8a45"/>
<ellipse cx="709.7" cy="299.9" rx="92" ry="180.7" fill="#fdd55a" fill-opacity=".85"/>
<ellipse cx="752.3" cy="299.9" rx="77.5" ry="152.2" fill="#6f87aa" fill-opacity=".88"/>
<ellipse cx="824.7" cy="331.7" rx="80.1" ry="157.3" fill="#8fb8e3"/>
<ellipse cx="832.4" cy="308.3" rx="80.1" ry="157.3" fill="#d8743a"/>
<ellipse cx="832.4" cy="299.9" rx="78.4" ry="153.9" fill="#60689e" fill-opacity=".85"/>
<ellipse cx="840.9" cy="288.2" rx="84.3" ry="165.6" fill="#4e7bd0" fill-opacity=".72"/>
<ellipse cx="1225" cy="313" rx="100" ry="195" fill="#9dc3e6" fill-opacity=".95"/>
<ellipse cx="1276" cy="333" rx="104" ry="205" fill="#7f9fd9" fill-opacity=".8"/>
<ellipse cx="319.5" cy="606.6" rx="28.4" ry="55.7" fill="#f4a878"/>
<ellipse cx="299.6" cy="528.9" rx="31.3" ry="61.4" fill="#ffd54f"/>
<ellipse cx="350.7" cy="618" rx="27" ry="53" fill="#5e8a45"/>
<ellipse cx="352.2" cy="600.9" rx="22.7" ry="44.7" fill="#6f95cf"/>
<ellipse cx="377.7" cy="575" rx="29.8" ry="58.6" fill="#bfbfbf"/>
<ellipse cx="353.6" cy="563.4" rx="32.6" ry="64.1" fill="#a9d18e"/>
<ellipse cx="382" cy="508.7" rx="32.6" ry="64.1" fill="#4a76c6"/>
<ellipse cx="382" cy="508.7" rx="30" ry="59" fill="#4f5f80" fill-opacity=".6"/>
<ellipse cx="215.8" cy="641.2" rx="23.3" ry="45.7" fill="#5e8a45"/>
<ellipse cx="215.8" cy="635.5" rx="23.3" ry="45.7" fill="#5f8fb5"/>
<ellipse cx="234.3" cy="592.2" rx="19.9" ry="39" fill="#c8c8c8"/>
<ellipse cx="238.6" cy="580.7" rx="21.3" ry="41.8" fill="#ed8a4a"/>
<ellipse cx="218.7" cy="583.6" rx="21.3" ry="41.8" fill="#a9d18e"/>
<ellipse cx="186" cy="552" rx="19.9" ry="39" fill="#ffd54f"/>
<ellipse cx="215.8" cy="540.4" rx="22.2" ry="43.5" fill="#4a76c6"/>
<ellipse cx="215.8" cy="540.4" rx="20" ry="40" fill="#4f5f80" fill-opacity=".5"/>
<ellipse cx="142" cy="749.5" rx="16.4" ry="32.3" fill="#5e8a45"/>
<ellipse cx="142" cy="698.8" rx="15.6" ry="30.6" fill="#8eaadb"/>
<ellipse cx="142" cy="664.2" rx="17" ry="33.5" fill="#a9d18e"/>
<ellipse cx="152" cy="678.6" rx="12.8" ry="25.1" fill="#b0683a"/>
<ellipse cx="110.8" cy="667.1" rx="12.8" ry="25.1" fill="#bfbfbf"/>
<ellipse cx="119.3" cy="670" rx="12.8" ry="25.1" fill="#fdc93a"/>
<ellipse cx="132.1" cy="621" rx="13.6" ry="26.8" fill="#ffd54f"/>
<ellipse cx="150.5" cy="623.9" rx="15.6" ry="30.6" fill="#ee8a4a"/>
<ellipse cx="144.8" cy="598" rx="15.6" ry="30.6" fill="#d8702e"/>
<ellipse cx="146.3" cy="559.4" rx="17.6" ry="34.6" fill="#4a76c6"/>
<ellipse cx="109.3" cy="592.2" rx="12.8" ry="25.1" fill="#4a76c6"/>
<ellipse cx="92.3" cy="658.5" rx="11.3" ry="22.3" fill="#4a76c6"/>
<ellipse cx="85.2" cy="690.2" rx="10.8" ry="21.2" fill="#4a76c6"/>
<ellipse cx="104.5" cy="730.5" rx="12.8" ry="25.1" fill="#f0904f"/>
<ellipse cx="74.4" cy="724.7" rx="10" ry="19.5" fill="#4a76c6"/>
<ellipse cx="88.9" cy="756.4" rx="11.3" ry="22.3" fill="#fdc93a"/>
<ellipse cx="73.3" cy="768" rx="10" ry="19.5" fill="#7cba55"/>
<ellipse cx="78.1" cy="793.8" rx="10.8" ry="21.2" fill="#bfbfbf"/>
<ellipse cx="64.8" cy="801.3" rx="10" ry="19.5" fill="#4a76c6"/>
<ellipse cx="76.7" cy="820.9" rx="10" ry="19.5" fill="#f0904f"/>
<ellipse cx="72.4" cy="847.4" rx="10" ry="19.5" fill="#bfbfbf"/>
<ellipse cx="71.6" cy="837" rx="8.5" ry="16.7" fill="#6fa8dc"/>
<ellipse cx="69.6" cy="871.6" rx="8.5" ry="16.7" fill="#fdc93a"/>
<ellipse cx="61.9" cy="874.5" rx="8.5" ry="16.7" fill="#4a76c6"/>
<ellipse cx="82.4" cy="893.5" rx="9.4" ry="18.4" fill="#a8602f"/>
<ellipse cx="56.8" cy="894.6" rx="8.5" ry="16.7" fill="#4a76c6"/>
<ellipse cx="63.9" cy="926.3" rx="8.5" ry="16.7" fill="#f0904f"/>
<ellipse cx="55.4" cy="940.7" rx="8.5" ry="16.7" fill="#7cba55"/>
<ellipse cx="68.2" cy="937.8" rx="7.1" ry="13.9" fill="#5580b8"/>
<ellipse cx="63" cy="995.4" rx="8.5" ry="16.7" fill="#4f5f80"/>
<ellipse cx="58.2" cy="1001.2" rx="7.1" ry="13.9" fill="#fdc93a"/>
<ellipse cx="51.1" cy="1030" rx="6.2" ry="12.3" fill="#4a76c6"/>
<ellipse cx="56.8" cy="1030" rx="5.7" ry="11.2" fill="#f0904f"/>
<ellipse cx="58.2" cy="1055.9" rx="5.1" ry="10" fill="#999"/>
<ellipse cx="51.7" cy="1125" rx="7.1" ry="13.9" fill="#7cba55"/>
<ellipse cx="52" cy="1171" rx="5.1" ry="10" fill="#5580b8"/>
<ellipse cx="53.4" cy="1198.8" rx="5.1" ry="10" fill="#4f5f80"/>
<ellipse cx="53.1" cy="1237.4" rx="3.4" ry="6.7" fill="#6fa8dc"/>
<ellipse cx="50.3" cy="1257.5" rx="4.3" ry="8.4" fill="#5580b8"/>
</g>
<polyline points="54,990 61,929 71,814 85,699 102,624 128,575 148,559 168,554 186,549 216,542 300,526 382,510 840,288" fill="none" stroke="#4472c4" stroke-width="3.5" stroke-dasharray="12 8"/>
<path d="M858 286H998" stroke="#c00000" stroke-width="7"/>
<rect x="5" y="425" width="160" height="1020" fill="none" stroke="#f4a09a" stroke-width="3" stroke-dasharray="12 8"/>
<g font-family="'Liberation Sans',sans-serif" font-size="15" text-anchor="middle" dominant-baseline="central" fill="#404040">
<text transform="translate(647 405) scale(.852 1.673)">82</text>
<text transform="translate(712 300) scale(.852 1.673)">141.2</text>
<text transform="translate(754 300) scale(.852 1.673)">100.1</text>
<text transform="translate(722 358) scale(.852 1.673)">104</text>
<text transform="translate(740 347) scale(.852 1.673)">101</text>
<text transform="translate(842 288) scale(.852 1.673)" fill="#111">115.2</text>
<text transform="translate(830 306) scale(.852 1.673)">108</text>
<text transform="translate(828 333) scale(.852 1.673)">108</text>
<text transform="translate(1225 313) scale(.852 1.673)">163</text>
<text transform="translate(1277 333) scale(.852 1.673)">179</text>
<text transform="translate(299.6 528.9) scale(.852 1.673)">17.2</text>
<text transform="translate(318.6 606.6) scale(.852 1.673)">15</text>
<text transform="translate(354.4 560.6) scale(.852 1.673)">18.3</text>
<text transform="translate(349.9 586.5) scale(.852 1.673)">15</text>
<text transform="translate(349.9 606.6) scale(.852 1.673)">15</text>
<text transform="translate(374.9 575) scale(.852 1.673)">17</text>
<text transform="translate(384.8 507.6) scale(.852 1.673)">15.9</text>
<text transform="translate(186 560.6) scale(.852 1.673)">9.1</text>
<text transform="translate(215.8 540.4) scale(.852 1.673)">5.49</text>
<text transform="translate(215.8 559.4) scale(.852 1.673)">8</text>
<text transform="translate(225 580.7) scale(.852 1.673)">10.79.1</text>
<text transform="translate(215.8 632.6) scale(.852 1.673)">9</text>
<text transform="translate(146.3 559.4) scale(.852 1.673)">5.1</text>
<text transform="translate(109.3 592.2) scale(.852 1.673)">3.37</text>
<text transform="translate(144.8 598) scale(.852 1.673)">5</text>
<text transform="translate(140.6 622.8) scale(.852 1.673)">5.74.9</text>
<text transform="translate(92.3 658.5) scale(.852 1.673)">2.47</text>
<text transform="translate(116.4 670) scale(.852 1.673)">3.84.5</text>
<text transform="translate(142 664.2) scale(.852 1.673)">5.6</text>
<text transform="translate(150.5 678.6) scale(.852 1.673)">3.9</text>
<text transform="translate(142 698.8) scale(.852 1.673)">5</text>
<text transform="translate(142 749.5) scale(.852 1.673)">5</text>
<text transform="translate(85.2 690.2) scale(.852 1.673)">1.88</text>
<text transform="translate(104.5 730.5) scale(.852 1.673)">2.8</text>
<text transform="translate(74.4 724.7) scale(.852 1.673)">1.65</text>
<text transform="translate(88.9 756.4) scale(.852 1.673)">2.3</text>
<text transform="translate(52 1172) scale(.852 1.673)">0.547</text>
<text transform="translate(54 1199) scale(.852 1.673)">0.577</text>
<text transform="translate(53 1237) scale(.852 1.673)">0.2</text>
<text transform="translate(50 1258) scale(.852 1.673)">0.425</text>
<text transform="translate(51 1030) scale(.852 1.673)">0.589</text>
<text transform="translate(58 1056) scale(.852 1.673)">0.4</text>
<text transform="translate(52 1125) scale(.852 1.673)">0.87</text>
<text transform="translate(63 995) scale(.852 1.673)">1.136</text>
</g>
<g font-family="'Liberation Serif',serif" text-anchor="middle" dominant-baseline="central" fill="#111">
<text transform="translate(963 258) scale(.852 1.673)" font-size="38">88.4%</text>
<text transform="translate(591 1198) scale(.852 1.673)" font-size="34">FLOPs</text>
<text transform="translate(591 1258) scale(.852 1.673)" font-size="34">(G)↓</text>
</g>
<g font-family="'Liberation Sans',sans-serif" font-size="17" text-anchor="middle" dominant-baseline="central" fill="#595959">
<text transform="translate(20 52) scale(.852 1.673)">92</text><text transform="translate(20 182.5) scale(.852 1.673)">90</text><text transform="translate(20 313) scale(.852 1.673)">88</text><text transform="translate(20 443.5) scale(.852 1.673)">86</text><text transform="translate(20 574) scale(.852 1.673)">84</text><text transform="translate(20 704.5) scale(.852 1.673)">82</text><text transform="translate(20 835) scale(.852 1.673)">80</text><text transform="translate(20 965.5) scale(.852 1.673)">78</text><text transform="translate(20 1096) scale(.852 1.673)">76</text><text transform="translate(20 1226.5) scale(.852 1.673)">74</text><text transform="translate(20 1357) scale(.852 1.673)">72</text>
<text transform="translate(40 1385) scale(.852 1.673)">0</text><text transform="translate(110.7 1385) scale(.852 1.673)">20</text><text transform="translate(181.4 1385) scale(.852 1.673)">40</text><text transform="translate(252.1 1385) scale(.852 1.673)">60</text><text transform="translate(322.7 1385) scale(.852 1.673)">80</text><text transform="translate(393.4 1385) scale(.852 1.673)">100</text><text transform="translate(464.1 1385) scale(.852 1.673)">120</text><text transform="translate(534.8 1385) scale(.852 1.673)">140</text><text transform="translate(605.5 1385) scale(.852 1.673)">160</text><text transform="translate(676.2 1385) scale(.852 1.673)">180</text><text transform="translate(746.8 1385) scale(.852 1.673)">200</text><text transform="translate(817.5 1385) scale(.852 1.673)">220</text><text transform="translate(888.2 1385) scale(.852 1.673)">240</text><text transform="translate(958.9 1385) scale(.852 1.673)">260</text><text transform="translate(1029.6 1385) scale(.852 1.673)">280</text><text transform="translate(1100.3 1385) scale(.852 1.673)">300</text><text transform="translate(1170.9 1385) scale(.852 1.673)">320</text><text transform="translate(1241.6 1385) scale(.852 1.673)">340</text><text transform="translate(1312.3 1385) scale(.852 1.673)">360</text><text transform="translate(1383 1385) scale(.852 1.673)">380</text>
</g>
</svg>

<!-- Legend -->
<div class="dot" style="left:4187px;top:1972px;background:#8c8c8c"></div><div class="lg" style="left:4207px;top:1963px">EfficientNet ICCV'19</div>
<div class="dot" style="left:4187px;top:2017px;background:#4f6391"></div><div class="lg" style="left:4207px;top:2008px">EdgeViT ECCV'22</div>
<div class="dot" style="left:4187px;top:2063px;background:#8faadc"></div><div class="lg" style="left:4207px;top:2054px">ConvNeXt CVPR'22</div>
<div class="dot" style="left:4187px;top:2108px;background:#a8903a"></div><div class="lg" style="left:4207px;top:2099px">EMO ICCV'23</div>
<div class="dot" style="left:4187px;top:2154px;background:#8cc46c"></div><div class="lg" style="left:4207px;top:2145px">tiny-MOAT ICLR'23</div>
<div class="dot" style="left:4187px;top:2199px;background:#ffd966"></div><div class="lg" style="left:4207px;top:2190px">MOAT ICLR'23</div>
<div class="dot" style="left:4187px;top:2244px;background:#4f81ae"></div><div class="lg" style="left:4207px;top:2235px">StarNet CVPR'24</div>
<div class="dot" style="left:4187px;top:2289px;background:#f4a06a"></div><div class="lg" style="left:4207px;top:2280px">UniRepLKNet CVPR'24</div>
<div class="dot" style="left:4187px;top:2335px;background:#e07b39"></div><div class="lg" style="left:4207px;top:2326px">FlashInternImage CVPR'24</div>
<div class="dot" style="left:4187px;top:2381px;background:#5b7fd0"></div><div class="lg" style="left:4207px;top:2372px">UniConvNet (Ours)</div>
<div class="dot" style="left:4552px;top:1972px;background:#5e8a45"></div><div class="lg" style="left:4572px;top:1963px">Swin Transformer ICCV'21</div>
<div class="dot" style="left:4552px;top:2017px;background:#a8643a"></div><div class="lg" style="left:4572px;top:2008px">EfficientFormer NeurIPS'22</div>
<div class="dot" style="left:4552px;top:2063px;background:#f4b183"></div><div class="lg" style="left:4572px;top:2054px">RepLKNet CVPR22</div>
<div class="dot" style="left:4552px;top:2108px;background:#b0b0b0"></div><div class="lg" style="left:4572px;top:2099px">FastViT ICCV'23</div>
<div class="dot" style="left:4552px;top:2154px;background:#c8c8c8"></div><div class="lg" style="left:4572px;top:2145px">SLaK ICLR'23</div>
<div class="dot" style="left:4552px;top:2199px;background:#9dc3e6"></div><div class="lg" style="left:4572px;top:2190px">InternImage CVPR'23</div>
<div class="dot" style="left:4552px;top:2244px;background:#ffc832"></div><div class="lg" style="left:4572px;top:2235px">RepViT CVPR'24</div>
<div class="dot" style="left:4552px;top:2289px;background:#a9d18e"></div><div class="lg" style="left:4572px;top:2280px">PeLK CVPR'24</div>
<div class="dot" style="left:4552px;top:2335px;background:#6fa8dc"></div><div class="lg" style="left:4572px;top:2326px">MobileNetV4 arXiv'24</div>

<!-- Global overlay -->
<svg style="left:0;top:0;width:5120px;height:2537px" viewBox="0 0 5120 2537">
<line x1="1519" y1="1421" x2="4993" y2="1406" stroke="#222" stroke-width="3"/>
<g stroke="#f4a09a" stroke-width="3" stroke-dasharray="14 9" fill="none">
<path d="M1651 2410L3286 2464"/><path d="M3232 1630L3286 1854"/>
</g>
<g font-family="'Liberation Serif',serif" fill="#111" text-anchor="middle">
<text transform="translate(1584 2008) rotate(-90)" font-size="34" letter-spacing="1.5">ImageNet 1k TOP-1 Accuracy(%)→</text>
<text transform="translate(3272 2010) rotate(-90)" font-size="34" letter-spacing="1.5">ImageNet 1k TOP-1 Accuracy(%)→</text>
<text x="2458" y="2478" font-size="36">Parameters(M)↓</text>
<text x="4135" y="2482" font-size="36">Parameters(M)↓</text>
</g>
</svg>
</body></html>
